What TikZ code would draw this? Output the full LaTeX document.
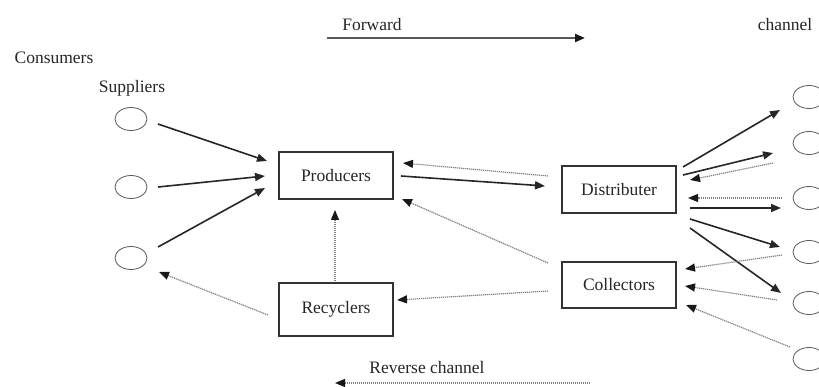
\documentclass[tikz,border=0pt]{standalone}
\usepackage{fontspec}
\setmainfont{Liberation Serif}
\usetikzlibrary{arrows.meta,shapes.geometric}
\begin{document}
\begin{tikzpicture}[x=1pt,y=-1pt,
  every node/.style={font=\fontsize{17.5}{20}\selectfont, text=black!85},
  lbl/.style={inner sep=0pt},
  stagebox/.style={draw=black!80, line width=1.1pt, inner sep=0pt},
  party/.style={draw=black!65, line width=0.8pt, ellipse, minimum width=32pt, minimum height=23pt, inner sep=0pt},
  solidarr/.style={draw=black!85, line width=1.6pt, -{Triangle[length=10pt,width=8pt]}},
  dotarr/.style={draw=black!50, line width=1.2pt, dash pattern=on 1.2pt off 0.8pt, -{Triangle[length=10pt,width=8pt,color=black!90]}},
  fwdarr/.style={draw=black!65, line width=2.2pt, -{Triangle[length=10pt,width=8pt,color=black!90]}}
]
\useasboundingbox (0,0) rectangle (819,387);
\clip (0,0) rectangle (819,387);

% labels
\node[lbl] (cons) at (54,58) {Consumers};
\node[lbl] (supl) at (132,88) {Suppliers};
\node[lbl] (fwdlbl) at (372,25) {Forward};
\node[lbl] (chan) at (785,25) {channel};
\node[lbl] (revlbl) at (427,368) {Reverse channel};

% suppliers
\node[party] (S1) at (131,119) {};
\node[party] (S2) at (131,187) {};
\node[party] (S3) at (131,258) {};

% consumers
\node[party] (R1) at (809,97) {};
\node[party] (R2) at (809,143) {};
\node[party] (R3) at (809,198) {};
\node[party] (R4) at (809,252) {};
\node[party] (R5) at (809,303) {};
\node[party] (R6) at (809,359) {};

% stages
\node[stagebox, minimum width=114pt, minimum height=47pt] (prod) at (336,175.5) {Producers};
\node[stagebox, minimum width=114pt, minimum height=53pt] (rec) at (336,309.5) {Recyclers};
\node[stagebox, minimum width=114pt, minimum height=47pt] (dist) at (619,189.5) {Distributer};
\node[stagebox, minimum width=114pt, minimum height=46pt] (coll) at (619,285) {Collectors};

% connector end points
\coordinate (fa) at (327,38);  \coordinate (fb) at (585,38);
\coordinate (ra) at (590,383); \coordinate (rb) at (335,383);

\coordinate (a1s) at (158,124); \coordinate (a1e) at (267,161);
\coordinate (a2s) at (158,187); \coordinate (a2e) at (265,176);
\coordinate (a3s) at (158,247); \coordinate (a3e) at (265,188);
\coordinate (a4s) at (401,176); \coordinate (a4e) at (545,186);
\coordinate (a5s) at (548,176); \coordinate (a5e) at (403,163);
\coordinate (a6s) at (683,167); \coordinate (a6e) at (780,110);
\coordinate (a7s) at (683,175); \coordinate (a7e) at (773,153);
\coordinate (a8s) at (773,163); \coordinate (a8e) at (690,180);
\coordinate (a9s) at (782,198); \coordinate (a9e) at (688,198);
\coordinate (a10s) at (690,208); \coordinate (a10e) at (781,208);
\coordinate (a11s) at (690,219); \coordinate (a11e) at (780,247);
\coordinate (a12s) at (690,228); \coordinate (a12e) at (781,293);
\coordinate (a13s) at (782,255); \coordinate (a13e) at (685,269);
\coordinate (a14s) at (777,300); \coordinate (a14e) at (685,286);
\coordinate (a15s) at (790,347); \coordinate (a15e) at (686,305);
\coordinate (a16s) at (548,263); \coordinate (a16e) at (402,199);
\coordinate (a17s) at (548,291); \coordinate (a17e) at (397,300);
\coordinate (a18s) at (335,281); \coordinate (a18e) at (335,210);
\coordinate (a19s) at (268,315); \coordinate (a19e) at (159,272);

% channel arrows
\draw[fwdarr] (fa) -- (fb);
\draw[dotarr] (ra) -- (rb);

% forward flows
\draw[solidarr] (a1s) -- (a1e);
\draw[solidarr] (a2s) -- (a2e);
\draw[solidarr] (a3s) -- (a3e);
\draw[solidarr] (a4s) -- (a4e);
\draw[solidarr] (a6s) -- (a6e);
\draw[solidarr] (a7s) -- (a7e);
\draw[solidarr] (a10s) -- (a10e);
\draw[solidarr] (a11s) -- (a11e);
\draw[solidarr] (a12s) -- (a12e);

% reverse flows
\draw[dotarr] (a5s) -- (a5e);
\draw[dotarr] (a8s) -- (a8e);
\draw[dotarr] (a9s) -- (a9e);
\draw[dotarr] (a13s) -- (a13e);
\draw[dotarr] (a14s) -- (a14e);
\draw[dotarr] (a15s) -- (a15e);
\draw[dotarr] (a16s) -- (a16e);
\draw[dotarr] (a17s) -- (a17e);
\draw[dotarr] (a18s) -- (a18e);
\draw[dotarr] (a19s) -- (a19e);
\end{tikzpicture}
\end{document}
